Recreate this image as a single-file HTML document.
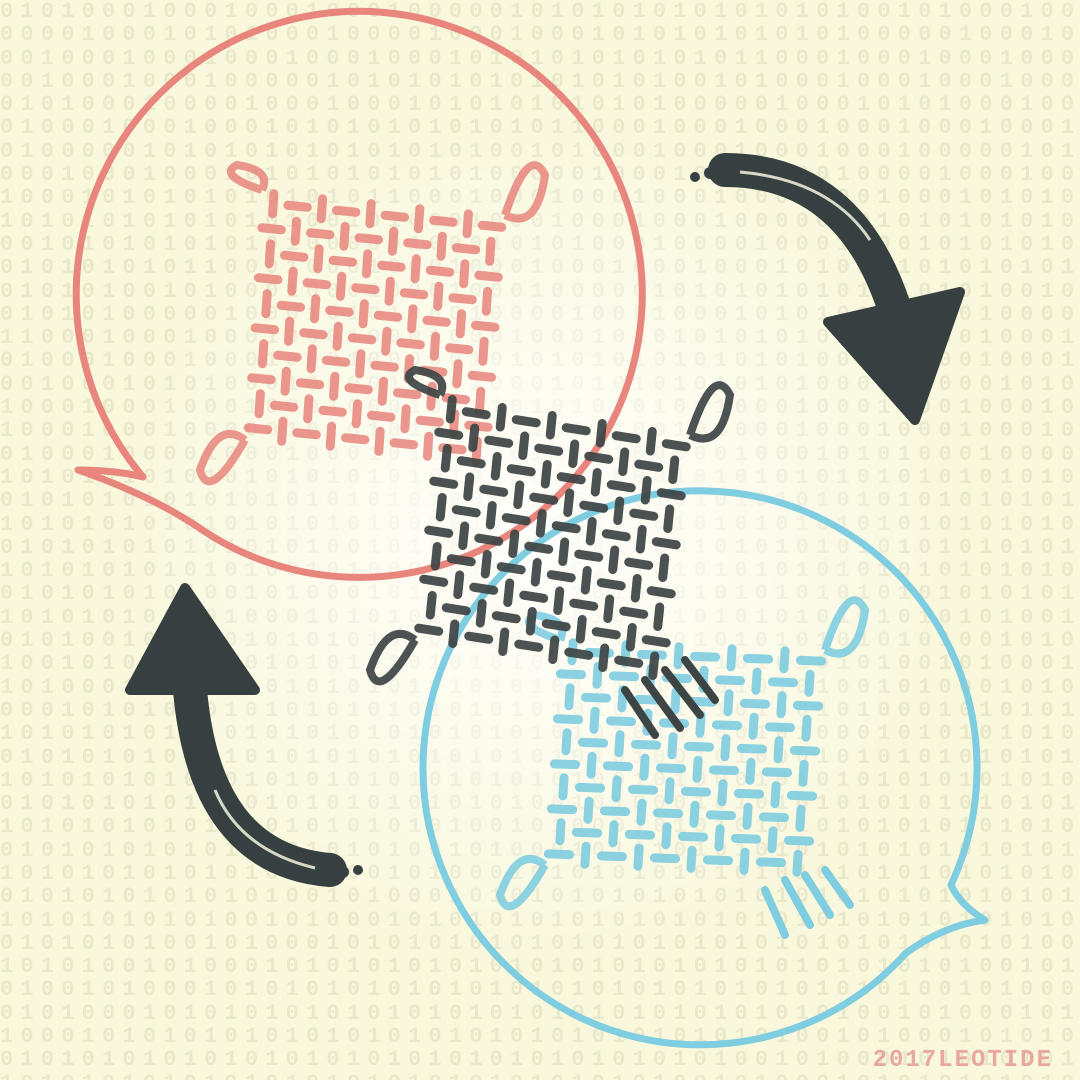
<!DOCTYPE html>
<html><head><meta charset="utf-8"><style>
html,body{margin:0;padding:0;width:1080px;height:1080px;overflow:hidden;background:#f9f8dc;position:relative}
#bg{position:absolute;left:0;top:0;width:1080px;height:1080px;font-family:"Liberation Mono",monospace;font-weight:bold;font-size:22px;letter-spacing:7.2px;line-height:23.3px;color:#e9e8cb;white-space:pre;overflow:hidden}
svg{position:absolute;left:0;top:0;display:block}
</style></head><body>
<div id="bg"></div>
<svg id="art" width="1080" height="1080" viewBox="0 0 1080 1080">
<defs><radialGradient id="glow" cx="0.5" cy="0.5" r="0.5"><stop offset="0" stop-color="#ffffff" stop-opacity="0.9"/><stop offset="0.6" stop-color="#ffffff" stop-opacity="0.4"/><stop offset="1" stop-color="#ffffff" stop-opacity="0"/></radialGradient></defs>
<ellipse cx="540" cy="540" rx="430" ry="430" fill="url(#glow)"/>
<path d="M 143 477 A 283 283 0 1 1 198 527 Q 150 495 78 470 Q 115 470 143 477 Z" fill="none" stroke="#e8857d" stroke-width="7" stroke-linejoin="round"/>
<path d="M 906 953 A 277 277 0 1 1 951 885 Q 960 905 985 920 Q 945 925 906 953 Z" fill="none" stroke="#7fcde0" stroke-width="7" stroke-linejoin="round"/>
<g id="weaves"></g>
<g>
<path d="M 725 170 Q 850 170 895 310" fill="none" stroke="#374040" stroke-width="34" stroke-linecap="round"/>
<path d="M 740 172 Q 830 180 870 240" fill="none" stroke="#d8d8c8" stroke-width="3"/>
<polygon points="828,322 960,292 915,420" fill="#374040" stroke="#374040" stroke-width="10" stroke-linejoin="round"/>
<circle cx="695" cy="177" r="5" fill="#374040"/><circle cx="710" cy="173" r="6" fill="#374040"/>
</g>
<g>
<path d="M 330 870 Q 205 860 190 690" fill="none" stroke="#374040" stroke-width="34" stroke-linecap="round"/>
<path d="M 315 868 Q 240 850 215 790" fill="none" stroke="#d8d8c8" stroke-width="3"/>
<polygon points="130,690 255,690 185,588" fill="#374040" stroke="#374040" stroke-width="10" stroke-linejoin="round"/>
<circle cx="358" cy="870" r="5" fill="#374040"/><circle cx="343" cy="872" r="6" fill="#374040"/>
</g>
<g stroke="#3d4444" stroke-width="8" stroke-linecap="round">
<line x1="625" y1="690" x2="655" y2="735"/><line x1="645" y1="680" x2="680" y2="728"/><line x1="665" y1="670" x2="700" y2="715"/><line x1="685" y1="660" x2="715" y2="700"/>
</g>
<g stroke="#7fcde0" stroke-width="8" stroke-linecap="round">
<line x1="765" y1="890" x2="785" y2="935"/><line x1="785" y1="880" x2="810" y2="925"/><line x1="805" y1="875" x2="830" y2="915"/><line x1="825" y1="870" x2="850" y2="905"/>
</g>
<text x="1053" y="1066" text-anchor="end" font-family="Liberation Mono, monospace" font-weight="bold" font-size="24" letter-spacing="2" fill="#e8a89e">2017LEOTIDE</text>
</svg>
<script>
var bg=document.getElementById('bg');var s='';
var pats=['0101000100010001000100000101010101010101010','0100000100010101000100001000100010101010101','1000100010001000100010001000101010101010101','0101000101010101010101010101010101010101010'];
for(var r=0;r<47;r++){var p=r<20?pats[r%3]:pats[3];var line='';for(var k=0;k<60;k++)line+=p[(k+r*3)%p.length];s+=line+'\n';}
bg.textContent=s;
var NS='http://www.w3.org/2000/svg';var G=document.getElementById('weaves');
function loop(name,x,y,dx,dy,col,op){
 var lp=document.createElementNS(NS,'path');
 
 
 lp.setAttribute('d','M '+x+' '+y+' q '+(dx*0.2-dy*0.6)+' '+(dy*0.2+dx*0.6)+' '+dx+' '+dy+' q '+(dx*0.2+dy*0.6)+' '+(dy*0.2-dx*0.6)+' '+(-dx)+' '+(-dy));
 lp.setAttribute('fill','none');lp.setAttribute('stroke',col);lp.setAttribute('stroke-width','8');lp.setAttribute('opacity',op);
 G.appendChild(lp);
}
function weave(name,o,u,v,n,col,op){
 var g=document.createElementNS(NS,'g');
 
 
 g.setAttribute('stroke',col);g.setAttribute('stroke-width','9');g.setAttribute('stroke-linecap','round');g.setAttribute('opacity',op);
 for(var i=0;i<n;i++)for(var j=0;j<n;j++){
  var cx=o[0]+u[0]*(i+.5)/n+v[0]*(j+.5)/n, cy=o[1]+u[1]*(i+.5)/n+v[1]*(j+.5)/n;
  var d=(i+j)%2?u:v;var h=0.4/n;
  var l=document.createElementNS(NS,'line');
  l.setAttribute('x1',cx-d[0]*h);l.setAttribute('y1',cy-d[1]*h);l.setAttribute('x2',cx+d[0]*h);l.setAttribute('y2',cy+d[1]*h);
  g.appendChild(l);}
 G.appendChild(g);
 loop(name+'-loop-tr',o[0]+u[0],o[1]+u[1],40,-40,col,op);
 loop(name+'-loop-bl',o[0]+v[0],o[1]+v[1],-45,30,col,op);
 loop(name+'-loop-tl',o[0],o[1],-25,-25,col,op);
}
weave('red-weave',[262,190],[243,25],[-17,250],10,'#e8857d',0.85);
weave('blue-weave',[560,640],[265,10],[-15,225],10,'#7fcde0',0.9);
weave('dark-weave',[440,395],[250,40],[-25,245],10,'#3d4444',0.92);
</script>
</body></html>
